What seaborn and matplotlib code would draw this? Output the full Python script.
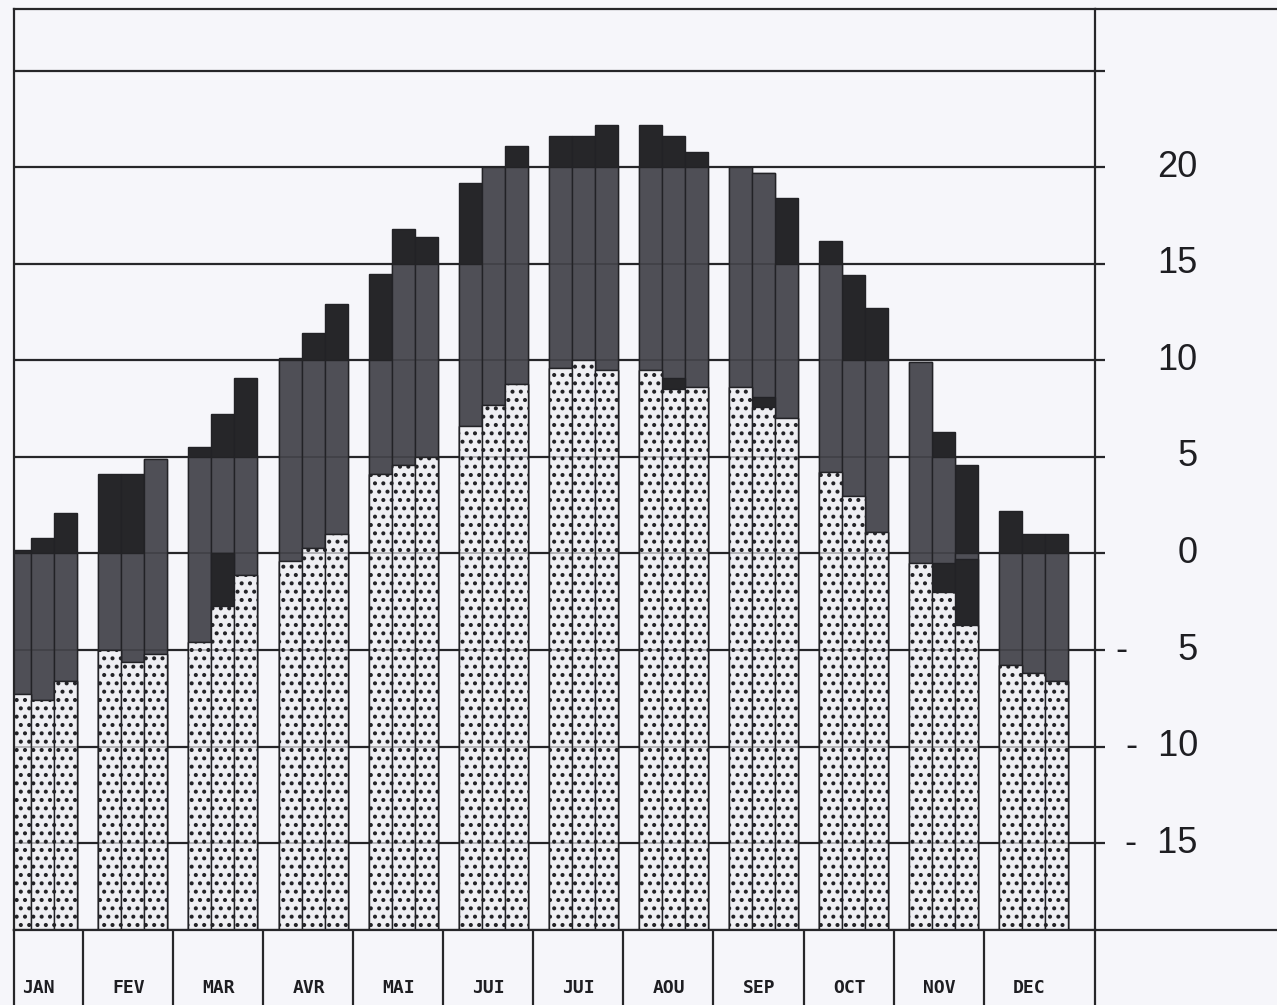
import matplotlib
matplotlib.use("Agg")
import matplotlib.pyplot as plt
from matplotlib.lines import Line2D
import seaborn as sns
import pandas as pd

sns.set_style("white")
plt.rcParams.update({
    "font.family": ["Liberation Sans", "DejaVu Sans"],
    "hatch.linewidth": 1.7,
})

# months (two "JUI": juin / juillet), three decades per month
months = ["JAN", "FEV", "MAR", "AVR", "MAI", "JUI", "JUI", "AOU", "SEP", "OCT", "NOV", "DEC"]
month_keys = ["JAN", "FEV", "MAR", "AVR", "MAI", "JUIN", "JUIL", "AOU", "SEP", "OCT", "NOV", "DEC"]
decades = ["1", "2", "3"]

# mean maximum temperature per decade (degC)
t_max = [[0.2, 0.8, 2.1], [4.1, 4.1, 4.9], [5.5, 7.2, 9.1], [10.1, 11.4, 12.9],
         [14.5, 16.8, 16.4], [19.2, 20.0, 21.1], [21.6, 21.6, 22.2], [22.2, 21.6, 20.8],
         [20.0, 19.7, 18.4], [16.2, 14.4, 12.7], [9.9, 6.3, 4.6], [2.2, 1.0, 1.0]]
# mean minimum temperature per decade (degC)
t_min = [[-7.3, -7.6, -6.6], [-5.0, -5.6, -5.2], [-4.6, -2.7, -1.1], [-0.4, 0.3, 1.0],
         [4.1, 4.6, 5.0], [6.6, 7.7, 8.8], [9.6, 10.0, 9.5], [9.5, 8.5, 8.6],
         [8.6, 7.6, 7.0], [4.2, 3.0, 1.1], [-0.5, -2.0, -3.7], [-5.8, -6.2, -6.6]]
# level where the solid black top of each bar begins (as printed)
black_top_from = [[0, 0, 0], [0, 0, 4.9], [5, 5, 5], [10, 10, 10],
                  [10, 15, 15], [15, 20, 20], [20, 20, 20], [20, 20, 20],
                  [20, 19.7, 15], [15, 10, 10], [9.9, 5, 0], [0, 0, 0]]
# level up to which a black patch sits above the minimum (as printed)
black_foot_to = [[-7.3, -7.6, -6.6], [-5.0, -5.6, -5.2], [-4.6, 0.0, -1.1], [-0.4, 0.3, 1.0],
                 [4.1, 4.6, 5.0], [6.6, 7.7, 8.8], [9.6, 10.0, 9.5], [9.5, 9.1, 8.6],
                 [8.6, 8.1, 7.0], [4.2, 3.0, 1.1], [-0.5, -0.5, -0.3], [-5.8, -6.2, -6.6]]

grid_levels = [25, 20, 15, 10, 5, 0, -5, -10, -15]
tick_levels = [20, 15, 10, 5, 0, -5, -10, -15]
tick_texts = ["20", "15", "10", "5", "0", "-     5", "-  10", "-  15"]

Y_BOT, Y_TOP = -19.5, 28.2
X_LO, X_HI = -0.32, 11.68

BG = "#f6f6fa"
BLACK = "#262629"
GRAY = "#4f4f56"
SPECK = "#efeff3"
LINE = "#262629"

rows = []
for m, key in enumerate(month_keys):
    for d, dec in enumerate(decades):
        rows.append(dict(month=key, decade=dec,
                         tmax=t_max[m][d], tmin=t_min[m][d],
                         top=black_top_from[m][d], foot=black_foot_to[m][d]))
df = pd.DataFrame(rows)
# bars are drawn up from the chart floor, so heights are measured from Y_BOT
for col in ["tmax", "tmin", "top", "foot"]:
    df["h_" + col] = df[col] - Y_BOT

fig = plt.figure(figsize=(12.77, 10.05), dpi=100, facecolor=BG)
W, H = 1277, 1005
left, right, top, bottom = 14, 1095, 9, 930
ax = fig.add_axes([left / W, 1 - bottom / H, (right - left) / W, (bottom - top) / H])
ax.set_facecolor(BG)

# grid lines under the bars
ax.hlines(grid_levels, X_LO, 11.79, colors=LINE, linewidth=1.6, zorder=1, clip_on=False)

layers = [("h_tmax", BLACK, None), ("h_top", GRAY, None),
          ("h_foot", BLACK, None), ("h_tmin", SPECK, "..")]
for col, color, hatch in layers:
    sns.barplot(data=df, x="month", y=col, hue="decade", order=month_keys,
                hue_order=decades, palette={d: color for d in decades},
                width=0.766, gap=0, dodge=True, saturation=1, errorbar=None,
                bottom=Y_BOT, edgecolor="#222226", linewidth=1.0, hatch=hatch,
                legend=False, ax=ax, zorder=2)

# grid lines show faintly through the bars
ax.hlines(grid_levels, X_LO, 11.79, colors=LINE, linewidth=1.4, alpha=0.3,
          zorder=3, clip_on=False)

ax.set_xlim(X_LO, X_HI)
ax.set_ylim(Y_BOT, Y_TOP)
ax.set_xlabel(None)
ax.set_ylabel(None)
ax.set_xticks([])
ax.yaxis.tick_right()
ax.set_yticks(tick_levels, tick_texts)
ax.tick_params(axis="y", length=0, pad=74, labelsize=26, labelcolor="#1e1e22")
for lbl in ax.get_yticklabels():
    lbl.set_ha("right")
    lbl.set_va("center")
for s in ax.spines.values():
    s.set_visible(True)
    s.set_color(LINE)
    s.set_linewidth(1.6)

# month strip under the chart
ax2 = fig.add_axes([left / W, 0, (right - left) / W, (H - bottom) / H])
ax2.set_facecolor(BG)
ax2.set_xlim(X_LO, X_HI)
ax2.set_ylim(0, 1)
ax2.set_xticks([])
ax2.set_yticks([])
for name, s in ax2.spines.items():
    s.set_color(LINE)
    s.set_linewidth(1.6)
ax2.spines["bottom"].set_visible(False)
ax2.vlines([i + 0.5 - 0.055 for i in range(len(months) - 1)], 0, 1,
           colors=LINE, linewidth=1.6)
for i, name in enumerate(months):
    ax2.text(i - 0.05, 0.23, name, ha="center", va="center",
             family="DejaVu Sans Mono", fontweight="bold", fontsize=13,
             color="#1e1e22")

# frame lines running on to the right edge
fig.add_artist(Line2D([right / W, 1], [1 - top / H] * 2, color=LINE, lw=1.6))
fig.add_artist(Line2D([right / W, 1], [1 - bottom / H] * 2, color=LINE, lw=1.6))

fig.savefig("out.png", dpi=100, facecolor=BG)
